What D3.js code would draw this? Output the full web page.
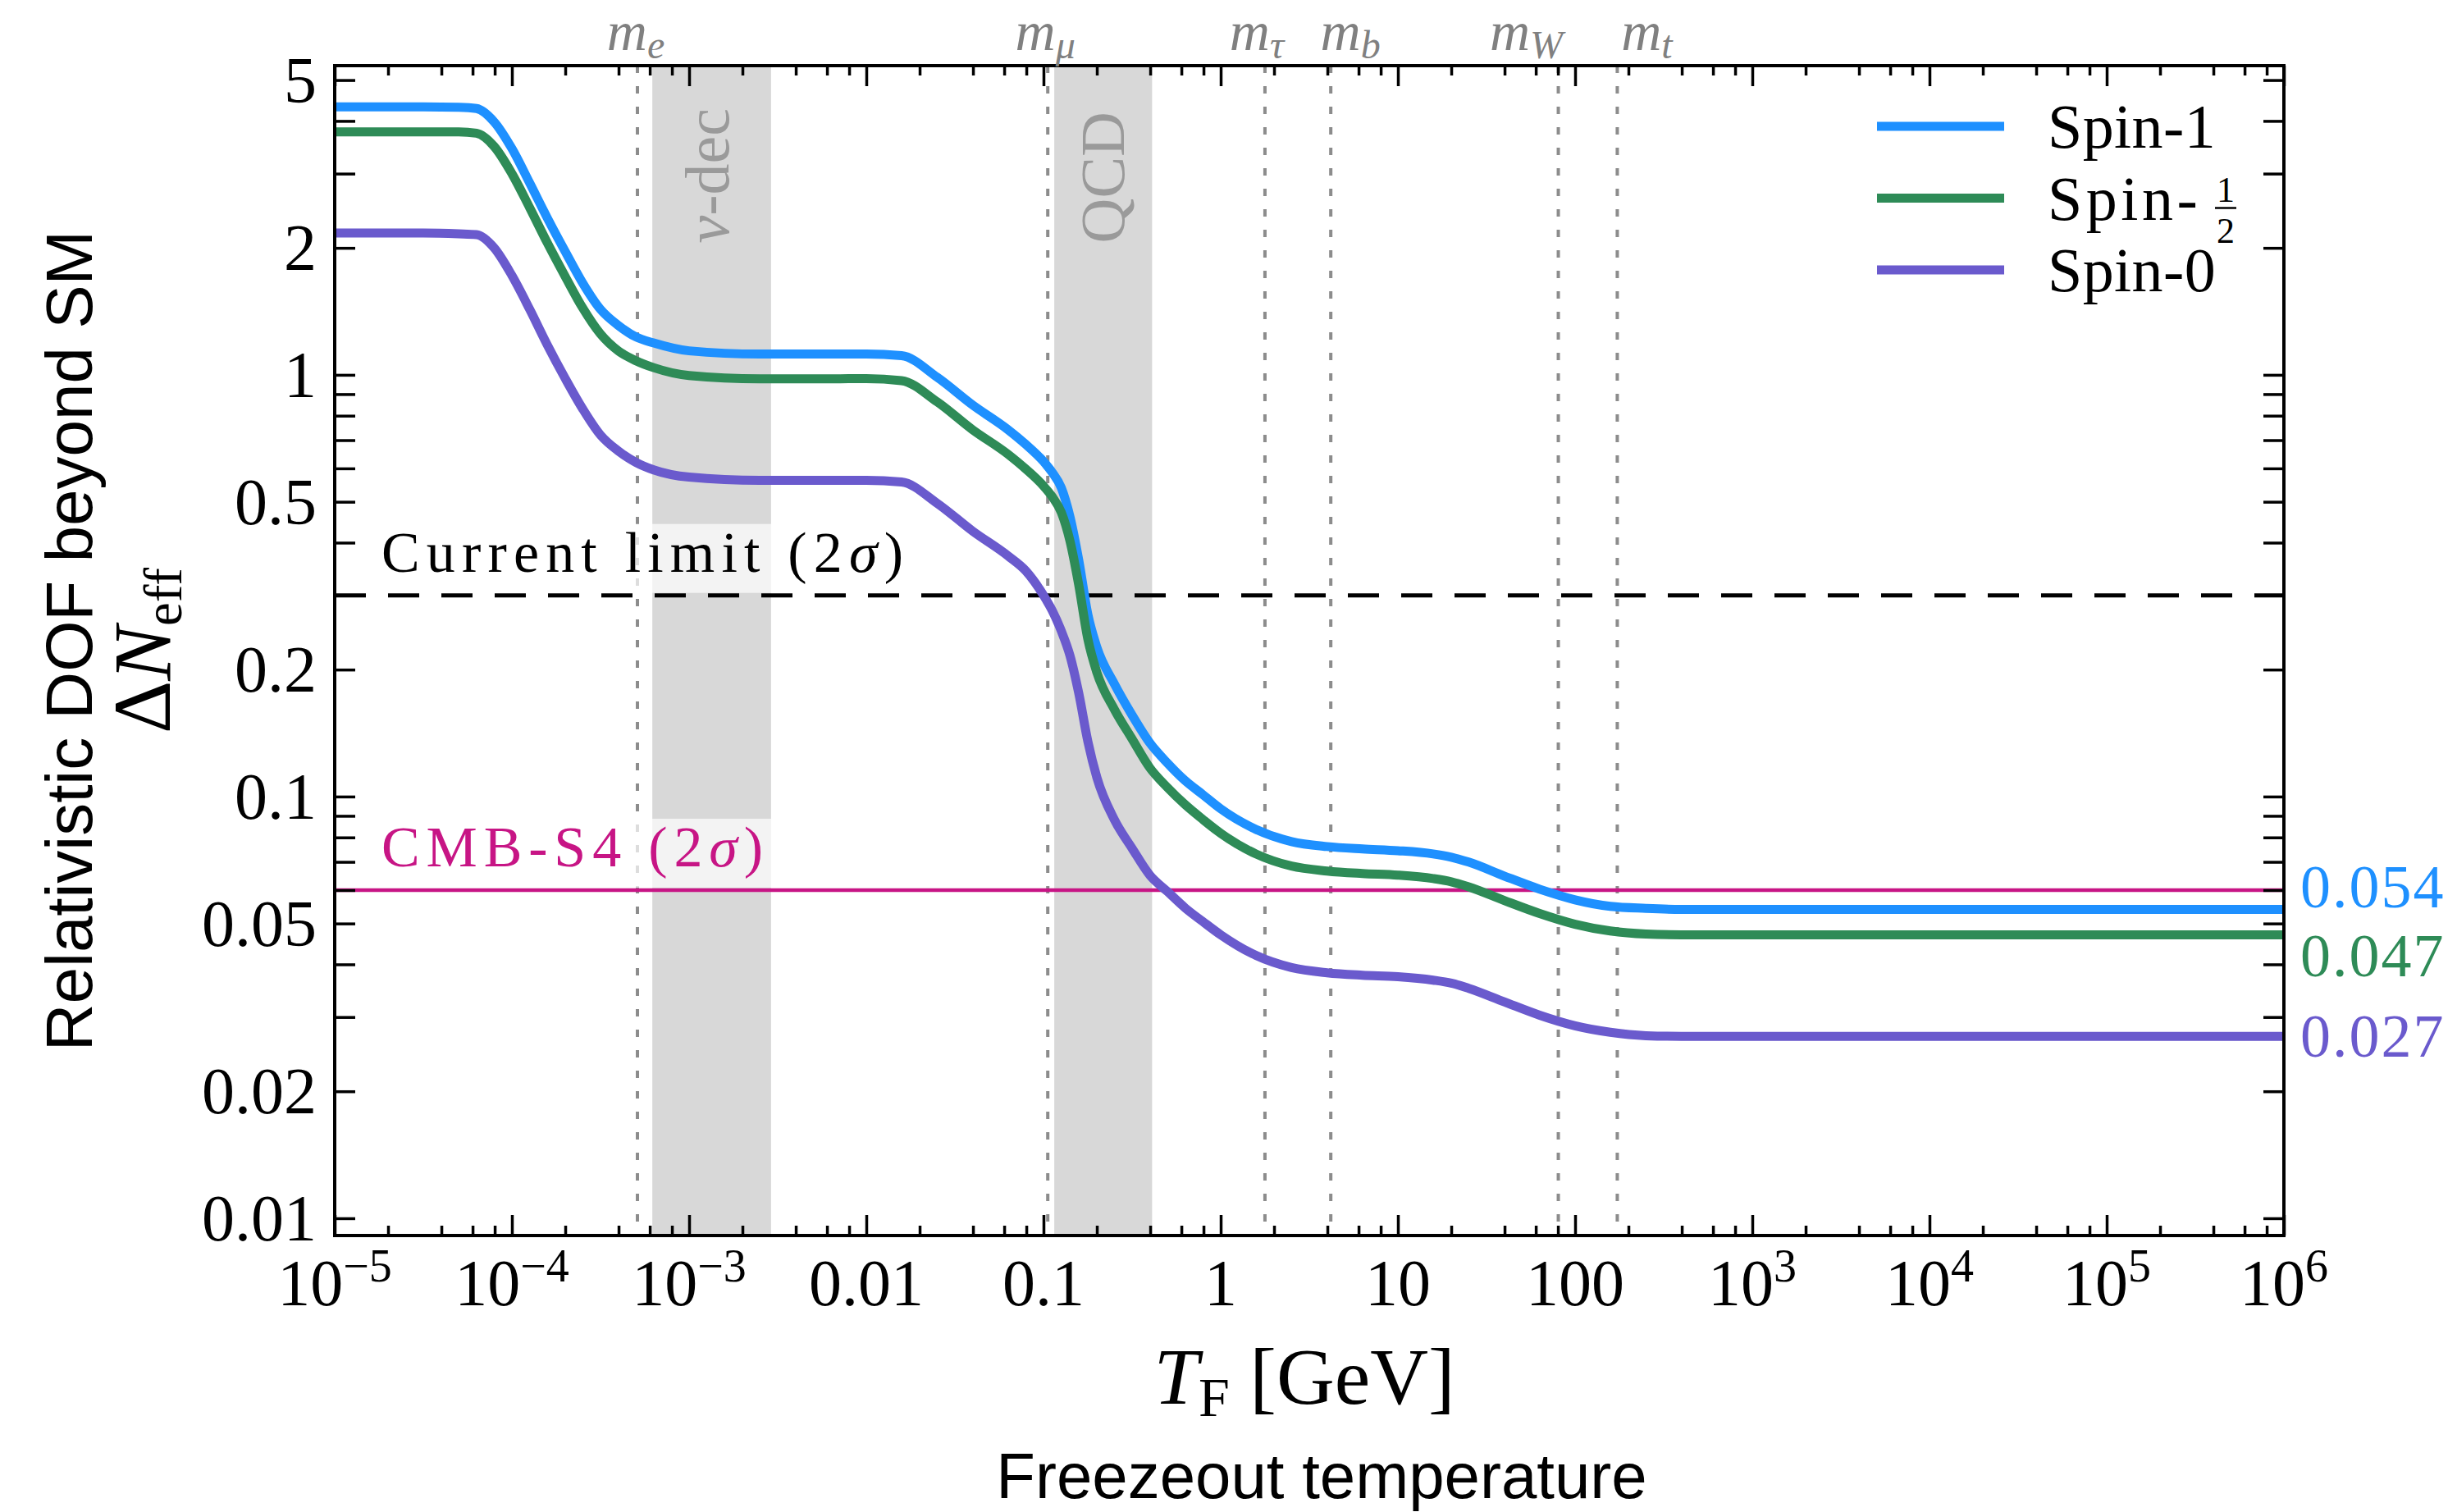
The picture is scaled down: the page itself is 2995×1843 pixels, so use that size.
<!DOCTYPE html>
<html>
<head>
<meta charset="utf-8">
<script src="https://cdn.jsdelivr.net/npm/d3@7"></script>
<style>
  body { margin: 0; background: #fff; }
</style>
</head>
<body>
<div id="chart"></div>
<script>
// freeze-out temperature grid [GeV]
const temps = [1e-5, 3.16e-5, 5.01e-5, 6.31e-5, 7.94e-5, 1e-4, 1.26e-4, 1.58e-4, 2.0e-4, 2.51e-4,
    3.16e-4, 3.98e-4, 5.01e-4, 6.31e-4, 1e-3, 2.51e-3, 6.31e-3, 0.01, 0.0158, 0.0251,
    0.0398, 0.0631, 0.0794, 0.1, 0.112, 0.126, 0.141, 0.158, 0.178, 0.2,
    0.251, 0.316, 0.398, 0.501, 0.631, 0.794, 1, 1.58, 2.51, 3.98,
    6.31, 10, 15.8, 20, 25.1, 39.8, 63.1, 100, 158, 251,
    398, 1e3, 1e4, 1e5, 1e6];

// Delta N_eff for each spin
const spin1 = [4.32, 4.32, 4.31, 4.28, 3.98, 3.44, 2.85, 2.36, 1.96, 1.65,
    1.43, 1.31, 1.23, 1.19, 1.14, 1.12, 1.12, 1.12, 1.11, 0.987,
    0.848, 0.741, 0.684, 0.623, 0.587, 0.540, 0.461, 0.364, 0.270, 0.226,
    0.185, 0.156, 0.134, 0.120, 0.109, 0.101, 0.0935, 0.0836, 0.0782, 0.0761,
    0.0751, 0.0744, 0.0731, 0.0718, 0.0699, 0.0648, 0.0603, 0.0569, 0.0549, 0.0543,
    0.054, 0.054, 0.054, 0.054, 0.054];
const spinHalf = [3.77, 3.77, 3.77, 3.74, 3.48, 3.00, 2.49, 2.06, 1.71, 1.44,
    1.25, 1.14, 1.08, 1.04, 0.996, 0.978, 0.978, 0.98, 0.969, 0.863,
    0.741, 0.648, 0.598, 0.545, 0.514, 0.472, 0.404, 0.318, 0.236, 0.197,
    0.161, 0.137, 0.117, 0.105, 0.0956, 0.0882, 0.0818, 0.0731, 0.0684, 0.0666,
    0.0657, 0.0651, 0.0639, 0.0628, 0.0611, 0.0567, 0.0528, 0.0498, 0.048, 0.0472,
    0.047, 0.047, 0.047, 0.047, 0.047];
const spin0 = [2.17, 2.17, 2.16, 2.15, 2.00, 1.72, 1.43, 1.18, 0.98, 0.83,
    0.72, 0.66, 0.62, 0.595, 0.572, 0.562, 0.562, 0.562, 0.557, 0.496,
    0.426, 0.372, 0.343, 0.30, 0.276, 0.247, 0.216, 0.176, 0.135, 0.111,
    0.0882, 0.0754, 0.0651, 0.0595, 0.0544, 0.0505, 0.047, 0.042, 0.0393, 0.0382,
    0.0377, 0.0374, 0.0367, 0.0361, 0.0351, 0.0326, 0.0303, 0.0286, 0.0276, 0.0271,
    0.027, 0.027, 0.027, 0.027, 0.027];

const seriesNames = ["Spin-1", "Spin-1/2", "Spin-0"];
const seriesColors = ["#1e90ff", "#2e8b57", "#6a5acd"];

// particle masses [GeV] marked along the top
const massNames = ["e", "\u03bc", "\u03c4", "b", "W", "t"];
const massValues = [5.11e-4, 0.1057, 1.777, 4.18, 80.4, 173];

// shaded epochs [GeV]
const bandNames = ["\u03bd|-dec", "QCD"];
const bandRanges = [[6.2e-4, 2.9e-3], [0.115, 0.41]];

// horizontal limits on Delta N_eff
const limitNames = ["Current limit", "CMB-S4"];
const limitValues = [0.3, 0.06];

const xTickValues = [1e-5, 1e-4, 1e-3, 0.01, 0.1, 1, 10, 100, 1e3, 1e4, 1e5, 1e6];
const xTickLabels = ["10^\u22125", "10^\u22124", "10^\u22123", "0.01", "0.1", "1", "10", "100", "10^3", "10^4", "10^5", "10^6"];
const xMinorSubs = [2, 4, 6, 8];
const yTickValues = [0.01, 0.02, 0.05, 0.1, 0.2, 0.5, 1, 2, 5];
const yTickLabels = ["0.01", "0.02", "0.05", "0.1", "0.2", "0.5", "1", "2", "5"];

function drawChart(selector) {

    let W = 2995, H = 1843,
        margin = {top: 80, left: 408, right: 211, bottom: 337},
        width = W - margin.left - margin.right,
        height = H - margin.top - margin.bottom,
        serif = '"Liberation Serif", "Times New Roman", serif',
        sans = '"Liberation Sans", Arial, sans-serif',

        // label nudges in px
        massLabelNudge = [-2, -3, -10, 24, -39, 36],
        bandLabelShift = [20, 25],
        endLabelShift = [-2, 51, 25],

        x = d3.scaleLog().domain([1e-5, 1e6]).range([0, width]),
        y = d3.scaleLog().domain([0.0091, 5.41]).range([height, 0]);

    // writes a list of text pieces as tspans, handling sub/superscript shifts
    function addParts(text, parts) {
        let prev = 0;
        parts.forEach(p => {
            let shift = p.shift || 0;
            text.append('tspan')
                .attr('dy', shift - prev)
                .attr('font-style', p.italic ? 'italic' : null)
                .attr('font-size', p.size || null)
                .text(p.t);
            prev = shift;
        });
        return text;
    }

    let svg = d3.select(selector)
        .append('svg')
        .attr('width', W)
        .attr('height', H)
        .style('background', '#fff');

    svg.append('defs').append('clipPath').attr('id', 'plot-clip')
        .append('rect').attr('width', width).attr('height', height);

    let plot = svg.append('g').attr('transform', `translate(${margin.left},${margin.top})`),
        inner = plot.append('g').attr('clip-path', 'url(#plot-clip)');

    // grey bands
    inner.selectAll('rect.band')
        .data(bandRanges)
        .join('rect')
        .attr('x', d => x(d[0]))
        .attr('width', d => x(d[1]) - x(d[0]))
        .attr('y', 0)
        .attr('height', height)
        .attr('fill', '#d8d8d8');

    // dotted mass lines
    inner.selectAll('line.mass')
        .data(massValues)
        .join('line')
        .attr('x1', d => x(d)).attr('x2', d => x(d))
        .attr('y1', 0).attr('y2', height)
        .attr('stroke', '#8c8c8c')
        .attr('stroke-width', 4)
        .attr('stroke-dasharray', '9 16');

    // limit lines
    let limitColor = ['#000', '#c71585'],
        limitDash = ['38 27', null],
        limitWidth = [5, 4.5],
        limitTextLen = [636, 465];

    limitValues.forEach((v, i) => {
        inner.append('line')
            .attr('x1', 0).attr('x2', width)
            .attr('y1', y(v)).attr('y2', y(v))
            .attr('stroke', limitColor[i])
            .attr('stroke-width', limitWidth[i])
            .attr('stroke-dasharray', limitDash[i]);
    });

    limitValues.forEach((v, i) => {
        inner.append('rect')
            .attr('x', 42)
            .attr('y', y(v) - 87)
            .attr('width', limitTextLen[i] + 30)
            .attr('height', 84)
            .attr('fill', '#fff')
            .attr('fill-opacity', 0.7);

        let t = inner.append('text')
            .attr('x', 57)
            .attr('y', y(v) - 29)
            .attr('font-family', serif)
            .attr('font-size', 70)
            .attr('fill', limitColor[i])
            .attr('textLength', limitTextLen[i])
            .attr('lengthAdjust', 'spacing');
        addParts(t, [{t: limitNames[i] + ' (2'}, {t: '\u03c3', italic: true}, {t: ')'}]);
    });

    // band labels, rotated; a "|" splits an italic symbol from the rest
    bandNames.forEach((name, i) => {
        let cx = (x(bandRanges[i][0]) + x(bandRanges[i][1])) / 2 + bandLabelShift[i],
            bits = name.split('|');
        let t = inner.append('text')
            .attr('transform', `translate(${cx},${52 + i * 4}) rotate(-90)`)
            .attr('text-anchor', 'end')
            .attr('font-family', serif)
            .attr('font-size', 76)
            .attr('fill', '#9a9a9a');
        addParts(t, bits.length > 1 ? [{t: bits[0], italic: true}, {t: bits[1]}] : [{t: name}]);
    });

    // curves
    let line = d3.line()
        .x(d => x(d[0]))
        .y(d => y(d[1]))
        .curve(d3.curveMonotoneX);

    let series = [spin1, spinHalf, spin0];
    series.forEach((vals, i) => {
        inner.append('path')
            .datum(temps.map((t, j) => [t, vals[j]]))
            .attr('fill', 'none')
            .attr('stroke', seriesColors[i])
            .attr('stroke-width', 11)
            .attr('stroke-linejoin', 'round')
            .attr('d', line);
    });

    // ticks on all four sides, pointing inward
    let xMinor = [], yAll = [];
    d3.range(-5, 6).forEach(k => xMinorSubs.forEach(s => xMinor.push(s * Math.pow(10, k))));
    d3.range(-2, 1).forEach(k => d3.range(1, 10).forEach(s => {
        let v = +(s * Math.pow(10, k)).toPrecision(3);
        if (v >= 0.0091 && v <= 5.41) yAll.push(v);
    }));

    let tickStyle = g => {
        g.select('.domain').remove();
        g.selectAll('.tick text').remove();
        g.selectAll('.tick line').attr('stroke', '#000').attr('stroke-width', 3.5);
    };

    plot.append('g').attr('transform', `translate(0,${height})`)
        .call(d3.axisBottom(x).tickValues(xTickValues).tickSize(-25)).call(tickStyle);
    plot.append('g').attr('transform', `translate(0,${height})`)
        .call(d3.axisBottom(x).tickValues(xMinor).tickSize(-12)).call(tickStyle);
    plot.append('g')
        .call(d3.axisTop(x).tickValues(xTickValues).tickSize(-25)).call(tickStyle);
    plot.append('g')
        .call(d3.axisTop(x).tickValues(xMinor).tickSize(-12)).call(tickStyle);
    plot.append('g')
        .call(d3.axisLeft(y).tickValues(yAll).tickSize(-25)).call(tickStyle);
    plot.append('g').attr('transform', `translate(${width},0)`)
        .call(d3.axisRight(y).tickValues(yAll).tickSize(-25)).call(tickStyle);

    // frame
    plot.append('rect')
        .attr('width', width)
        .attr('height', height)
        .attr('fill', 'none')
        .attr('stroke', '#000')
        .attr('stroke-width', 4);

    // x tick labels
    xTickLabels.forEach((lab, i) => {
        let t = svg.append('text')
            .attr('x', margin.left + x(xTickValues[i]))
            .attr('y', 1591)
            .attr('text-anchor', 'middle')
            .attr('font-family', serif)
            .attr('font-size', 80);
        let [base, exp] = lab.split('^');
        let parts = [{t: base}];
        if (exp) parts.push({t: exp, size: 56, shift: -29});
        addParts(t, parts);
    });

    // y tick labels
    svg.selectAll('text.ylab')
        .data(yTickValues)
        .join('text')
        .attr('x', 386)
        .attr('y', d => margin.top + y(d) + 27)
        .attr('text-anchor', 'end')
        .attr('font-family', serif)
        .attr('font-size', 80)
        .text((d, i) => yTickLabels[i]);

    // mass labels above the frame
    massNames.forEach((name, i) => {
        let t = svg.append('text')
            .attr('x', margin.left + x(massValues[i]) + massLabelNudge[i])
            .attr('y', 61)
            .attr('text-anchor', 'middle')
            .attr('font-family', serif)
            .attr('font-size', 68)
            .attr('fill', '#808080');
        addParts(t, [{t: 'm', italic: true}, {t: name, italic: true, size: 48, shift: 10}]);
    });

    // asymptotic values on the right
    series.forEach((vals, i) => {
        let v = vals[vals.length - 1];
        svg.append('text')
            .attr('x', 2804)
            .attr('y', margin.top + y(v) + endLabelShift[i])
            .attr('font-family', serif)
            .attr('font-size', 74)
            .attr('letter-spacing', 2)
            .attr('fill', seriesColors[i])
            .text(d3.format('.3f')(v));
    });

    // legend; a "1/2" suffix is set as a stacked fraction
    seriesNames.forEach((name, i) => {
        let ly = 154 + i * 87.5,
            [head, tail] = name.split('-');
        svg.append('line')
            .attr('x1', 2288).attr('x2', 2443)
            .attr('y1', ly).attr('y2', ly)
            .attr('stroke', seriesColors[i])
            .attr('stroke-width', 11);

        let t = svg.append('text')
            .attr('x', 2496)
            .attr('y', ly + 26)
            .attr('font-family', serif)
            .attr('font-size', 76)
            .attr('letter-spacing', 0.4);

        if (tail.includes('/')) {
            let [num, den] = tail.split('/');
            t.attr('letter-spacing', 4.5).text(head + '-');
            let frac = svg.append('g')
                .attr('font-family', serif)
                .attr('font-size', 44)
                .attr('text-anchor', 'middle');
            frac.append('text').attr('x', 2713).attr('y', ly + 4).text(num);
            frac.append('text').attr('x', 2713).attr('y', ly + 54).text(den);
            frac.append('line')
                .attr('x1', 2700).attr('x2', 2726)
                .attr('y1', ly + 12).attr('y2', ly + 12)
                .attr('stroke', '#000').attr('stroke-width', 2.5);
        } else {
            t.text(name);
        }
    });

    // axis titles
    let yt = svg.append('text')
        .attr('transform', 'translate(207,793) rotate(-90)')
        .attr('text-anchor', 'middle')
        .attr('font-family', serif)
        .attr('font-size', 100);
    addParts(yt, [{t: '\u0394'}, {t: 'N', italic: true}, {t: 'eff', size: 65, shift: 14}]);

    svg.append('text')
        .attr('transform', 'translate(112,781) rotate(-90)')
        .attr('text-anchor', 'middle')
        .attr('font-family', sans)
        .attr('font-size', 80)
        .text('Relativistic DOF beyond SM');

    let xt = svg.append('text')
        .attr('x', 1590)
        .attr('y', 1711)
        .attr('text-anchor', 'middle')
        .attr('font-family', serif)
        .attr('font-size', 98);
    addParts(xt, [{t: 'T', italic: true}, {t: 'F', size: 68, shift: 15}, {t: '\u00a0[GeV]'}]);

    svg.append('text')
        .attr('x', 1611)
        .attr('y', 1826)
        .attr('text-anchor', 'middle')
        .attr('font-family', sans)
        .attr('font-size', 78)
        .text('Freezeout temperature');
}

drawChart('#chart');
</script>
</body>
</html>
